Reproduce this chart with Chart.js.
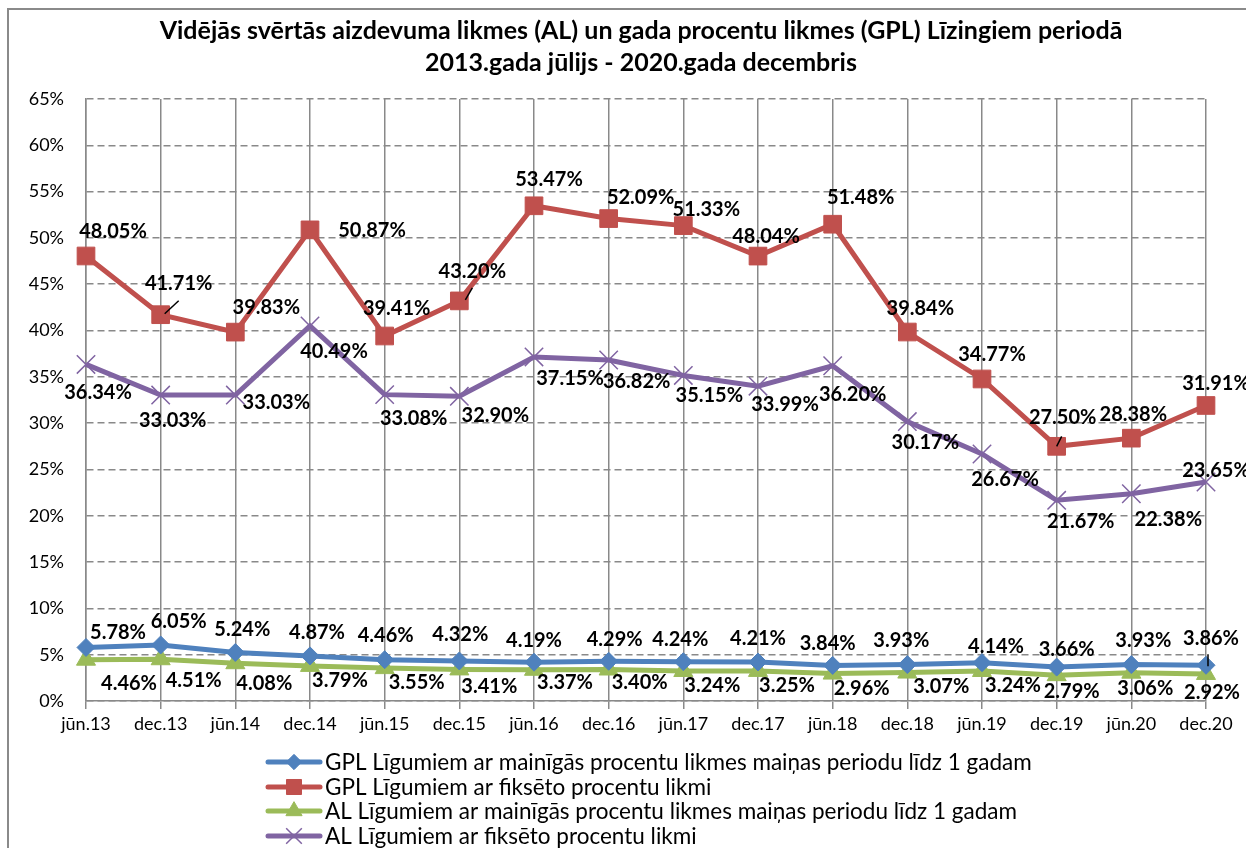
<!DOCTYPE html>
<html><head><meta charset="utf-8">
<script src="https://cdn.jsdelivr.net/npm/chart.js@4.4.1/dist/chart.umd.min.js"></script>
<style>
html,body{margin:0;padding:0;background:#fff;}
#wrap{position:relative;width:1246px;height:848px;overflow:hidden;}
canvas{display:block;}
</style></head><body>
<div id="wrap"><canvas id="c" width="1246" height="848"></canvas></div>
<script>
// ---- data ----
const categories = ['jūn.13','dec.13','jūn.14','dec.14','jūn.15','dec.15','jūn.16','dec.16','jūn.17','dec.17','jūn.18','dec.18','jūn.19','dec.19','jūn.20','dec.20'];
const gplVariable = [5.78, 6.05, 5.24, 4.87, 4.46, 4.32, 4.19, 4.29, 4.24, 4.21, 3.84, 3.93, 4.14, 3.66, 3.93, 3.86];
const gplFixed    = [48.05, 41.71, 39.83, 50.87, 39.41, 43.20, 53.47, 52.09, 51.33, 48.04, 51.48, 39.84, 34.77, 27.50, 28.38, 31.91];
const alVariable  = [4.46, 4.51, 4.08, 3.79, 3.55, 3.41, 3.37, 3.40, 3.24, 3.25, 2.96, 3.07, 3.24, 2.79, 3.06, 2.92];
const alFixed     = [36.34, 33.03, 33.03, 40.49, 33.08, 32.90, 37.15, 36.82, 35.15, 33.99, 36.20, 30.17, 26.67, 21.67, 22.38, 23.65];
const yMin = 0, yMax = 65, yStep = 5;
const seriesNames = [
  'GPL Līgumiem ar mainīgās procentu likmes maiņas periodu līdz 1 gadam',
  'GPL Līgumiem ar fiksēto procentu likmi',
  'AL Līgumiem ar mainīgās procentu likmes maiņas periodu līdz 1 gadam',
  'AL Līgumiem ar fiksēto procentu likmi'
];
const titleLines = [
  'Vidējās svērtās aizdevuma likmes (AL) un gada procentu likmes (GPL) Līzingiem periodā',
  '2013.gada jūlijs - 2020.gada decembris'
];

// ---- label placement (style only: offsets of value labels from their points) ----
const labelDX = [
  [32, 18, 7, 7, 1, 1, 0, 6, -3, 0, -5, -6, 14, 10, 12, 5],
  [27, 18, 31, 62, 12, 13, 15, 32, 23, 8, 28, 13, 10, 6, 2, 10],
  [43, 33, 29, 30, 32, 30, 31, 31, 29, 29, 29, 34, 31, 15, 14, 6],
  [12, 12, 41, 24, 29, 36, 36, 28, 26, 27, 20, 18, 23, 24, 37, 10]
];
const labelDY = [
  [-15, -23, -23, -23, -24, -26, -22, -22, -22, -23, -22, -24, -16, -18, -24, -27],
  [-24, -31, -25, 1, -27, -29, -26, -21, -16, -20, -27, -23, -24, -29, -24, -22],
  [24, 21, 20, 15, 14, 17, 13, 13, 15, 15, 15, 14, 15, 16, 16, 19],
  [28, 25, 7, 26, 24, 19, 22, 22, 20, 18, 29, 21, 26, 21, 26, -11]
];
const leaders = [
  {ds: 1, i: 1, a: [4, -1], b: [18, -14]},
  {ds: 1, i: 5, a: [6, -1], b: [13, -13]},
  {ds: 1, i: 13, a: [0, 0], b: [5, -10]},
  {ds: 0, i: 15, a: [2, -11], b: [2, 1]}
];

const FONT = 'Lato, "Open Sans", sans-serif';
const GRID = '#898989';

const bgPlugin = {
  id: 'bg',
  beforeDraw(chart) {
    const ctx = chart.ctx;
    ctx.save();
    ctx.fillStyle = '#fff';
    ctx.fillRect(0, 0, chart.width, chart.height);
    ctx.strokeStyle = '#8a8a8a';
    ctx.lineWidth = 2;
    ctx.beginPath();
    ctx.moveTo(8, chart.height);
    ctx.lineTo(8, 9);
    ctx.lineTo(chart.width, 9);
    ctx.stroke();
    ctx.restore();
  }
};

const titlePlugin = {
  id: 'titleDraw',
  afterDraw(chart) {
    const ctx = chart.ctx;
    ctx.save();
    ctx.fillStyle = '#000';
    ctx.font = 'bold 25px ' + FONT;
    ctx.textAlign = 'center';
    ctx.textBaseline = 'middle';
    ctx.fillText(titleLines[0], 641, 31);
    ctx.fillText(titleLines[1], 641, 63);
    ctx.restore();
  }
};

const valueLabelPlugin = {
  id: 'valueLabels',
  afterDatasetsDraw(chart) {
    const ctx = chart.ctx;
    ctx.save();
    ctx.strokeStyle = '#000';
    ctx.lineWidth = 1.5;
    leaders.forEach(l => {
      const p = chart.getDatasetMeta(l.ds).data[l.i];
      ctx.beginPath();
      ctx.moveTo(p.x + l.a[0], p.y + l.a[1]);
      ctx.lineTo(p.x + l.b[0], p.y + l.b[1]);
      ctx.stroke();
    });
    ctx.font = 'bold 20px ' + FONT;
    ctx.fillStyle = '#000';
    ctx.textAlign = 'center';
    ctx.textBaseline = 'middle';
    chart.data.datasets.forEach((ds, di) => {
      const meta = chart.getDatasetMeta(di);
      meta.data.forEach((p, i) => {
        const txt = ds.data[i].toFixed(2) + '%';
        ctx.fillText(txt, p.x + labelDX[di][i], p.y + labelDY[di][i]);
      });
    });
    ctx.restore();
  }
};

const legendPlugin = {
  id: 'legendDraw',
  afterDraw(chart) {
    const ctx = chart.ctx;
    ctx.save();
    const rows = [762, 787, 811, 836];
    chart.data.datasets.forEach((ds, i) => {
      const y = rows[i];
      ctx.strokeStyle = ds.borderColor;
      ctx.lineWidth = 5;
      ctx.lineCap = 'round';
      ctx.beginPath();
      ctx.moveTo(268, y);
      ctx.lineTo(320, y);
      ctx.stroke();
      ctx.lineCap = 'butt';
      ctx.fillStyle = ds.pointBackgroundColor;
      ctx.strokeStyle = ds.pointBorderColor;
      ctx.lineWidth = ds.pointBorderWidth;
      Chart.helpers.drawPoint(ctx, {pointStyle: ds.pointStyle, radius: ds.pointRadius * 0.85, rotation: 0, borderWidth: ds.pointBorderWidth}, 294, y);
      ctx.fillStyle = '#000';
      ctx.font = '22.5px ' + FONT;
      ctx.textAlign = 'left';
      ctx.textBaseline = 'middle';
      ctx.fillText(ds.label, 325, y + 1);
    });
    ctx.restore();
  }
};

function series(label, data, color, style, radius, pbw) {
  return {
    label, data,
    borderColor: color, backgroundColor: color,
    borderWidth: 5,
    pointStyle: style, pointRadius: radius, pointHoverRadius: radius,
    pointBackgroundColor: color, pointBorderColor: color, pointBorderWidth: pbw,
    tension: 0, fill: false
  };
}

new Chart(document.getElementById('c'), {
  type: 'line',
  data: {
    labels: categories,
    datasets: [
      series(seriesNames[0], gplVariable, '#4F81BD', 'rectRot', 9, 1),
      series(seriesNames[1], gplFixed, '#C0504D', 'rect', 12.5, 1),
      series(seriesNames[2], alVariable, '#9BBB59', 'triangle', 11, 1),
      series(seriesNames[3], alFixed, '#8064A2', 'crossRot', 13, 1.5)
    ]
  },
  options: {
    responsive: false,
    animation: false,
    devicePixelRatio: 1,
    layout: {padding: {left: 0, right: 40, top: 99, bottom: 107}},
    plugins: {legend: {display: false}, title: {display: false}, tooltip: {enabled: false}},
    scales: {
      x: {
        type: 'category', offset: false,
        grid: {color: GRID, lineWidth: 1.5, drawTicks: true, tickLength: 8, tickColor: GRID},
        border: {display: true, color: GRID, width: 1.5},
        ticks: {font: {family: FONT, size: 18}, color: '#000', padding: 4, maxRotation: 0, autoSkip: false},
        afterFit(s) { s.height = 40; }
      },
      y: {
        type: 'linear', min: yMin, max: yMax,
        grid: {color: GRID, lineWidth: 1.5, drawTicks: false},
        border: {display: true, color: GRID, width: 1.5, dash: [7, 4]},
        ticks: {stepSize: yStep, font: {family: FONT, size: 18}, color: '#000', padding: 22, callback: v => v + '%'},
        afterFit(s) { s.width = 86; }
      }
    }
  },
  plugins: [bgPlugin, valueLabelPlugin, titlePlugin, legendPlugin]
});
</script>
</body></html>
